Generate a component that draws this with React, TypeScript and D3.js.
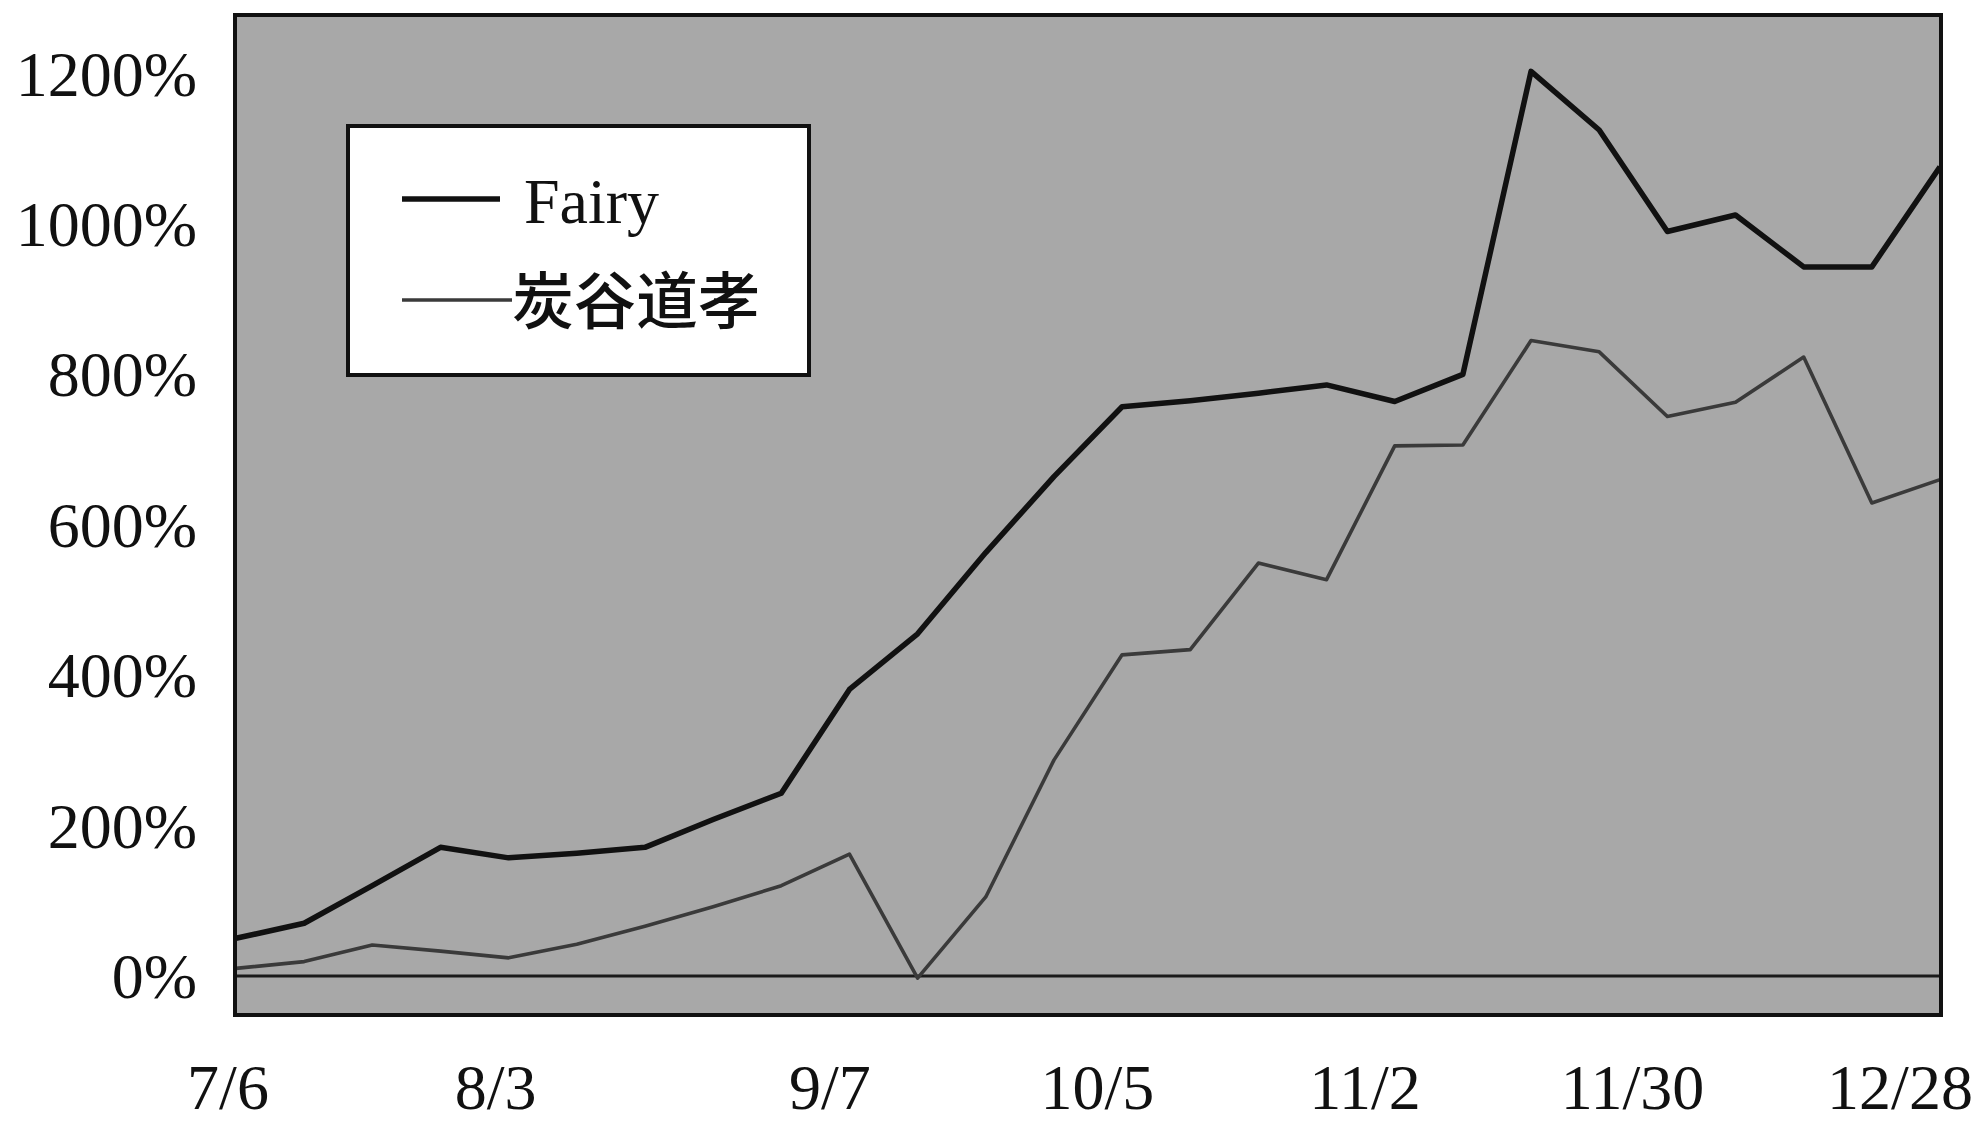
import React from "react";
import * as d3 from "d3";

const dates = ["7/6","7/13","7/20","7/27","8/3","8/10","8/17","8/24","8/31","9/7","9/14","9/21","9/28","10/5","10/12","10/19","10/26","11/2","11/9","11/16","11/23","11/30","12/7","12/14","12/21","12/28"];
const fairy = [50, 70, 120, 171, 157, 163, 171, 208, 243, 381, 455, 563, 664, 757, 765, 775, 786, 764, 800, 1203, 1125, 990, 1012, 943, 943, 1076];
const sumitani = [10, 19, 41, 33, 24, 42, 66, 92, 120, 162, -3, 105, 287, 427, 434, 549, 527, 705, 706, 845, 830, 744, 763, 823, 629, 660];
const xTickLabels = ["7/6","8/3","9/7","10/5","11/2","11/30","12/28"];
const yTicks = [0, 200, 400, 600, 800, 1000, 1200];
const seriesNames = ["Fairy", "炭谷道孝"];

const W = 1981, H = 1125;
const plotL = 235, plotR = 1941, plotT = 15, plotB = 1015;

export default function App() {
  const x = d3.scalePoint<string>().domain(dates).range([plotL + 1, plotR - 1]);
  const xLab = d3.scalePoint<string>().domain(dates).range([228, 1900]);
  const y = d3.scaleLinear().domain([-52, 1278]).range([plotB, plotT]);
  const line = d3.line<number>().x((_, i) => x(dates[i])!).y((d) => y(d));
  const serif = "'Liberation Serif','Times New Roman',serif";
  const cjk = "'Noto Sans CJK SC','Noto Sans CJK JP',sans-serif";
  return (
    <svg width={W} height={H} style={{ position: "absolute", left: 0, top: 0, background: "#fff" }}>
      <defs>
        <clipPath id="plotclip">
          <rect x={plotL} y={plotT} width={plotR - plotL} height={plotB - plotT} />
        </clipPath>
      </defs>
      <rect x={plotL} y={plotT} width={plotR - plotL} height={plotB - plotT} fill="#a8a8a8" />
      <g clipPath="url(#plotclip)">
        <line x1={plotL} x2={plotR} y1={y(0)} y2={y(0)} stroke="#1a1a1a" strokeWidth={3} />
        <path d={line(sumitani) || ""} fill="none" stroke="#3a3a3a" strokeWidth={3.6} strokeLinejoin="round" />
        <path d={line(fairy) || ""} fill="none" stroke="#111" strokeWidth={5.5} strokeLinejoin="round" />
      </g>
      <rect x={plotL} y={plotT} width={plotR - plotL} height={plotB - plotT} fill="none" stroke="#111" strokeWidth={4} />
      {yTicks.map((v) => (
        <text key={v} x={197} y={y(v) + 22} textAnchor="end" fontFamily={serif} fontSize={64} fill="#111">
          {v}%
        </text>
      ))}
      {xTickLabels.map((d) => (
        <text key={d} x={xLab(d)} y={1109} textAnchor="middle" fontFamily={serif} fontSize={64} fill="#111">
          {d}
        </text>
      ))}
      <g>
        <rect x={348} y={126} width={461} height={249} fill="#fff" stroke="#111" strokeWidth={4} />
        <line x1={402} x2={500} y1={199} y2={199} stroke="#111" strokeWidth={5.5} />
        <text x={524} y={223} fontFamily={serif} fontSize={64} fill="#111">{seriesNames[0]}</text>
        <line x1={402} x2={512} y1={300} y2={300} stroke="#3a3a3a" strokeWidth={3.6} />
        <text x={512} y={324} fontFamily={cjk} fontSize={62} fontWeight={500} fill="#111">{seriesNames[1]}</text>
      </g>
    </svg>
  );
}
